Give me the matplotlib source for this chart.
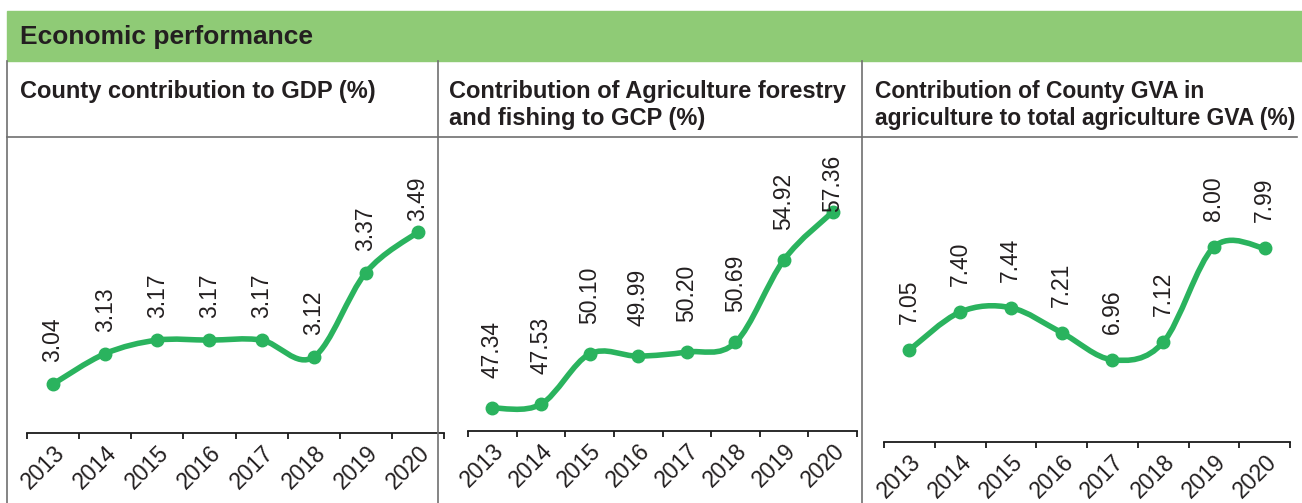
import matplotlib
matplotlib.use('Agg')
import matplotlib.pyplot as plt
from matplotlib.path import Path
from matplotlib.patches import PathPatch, Rectangle
from matplotlib.lines import Line2D

plt.rcParams['font.family'] = ['Liberation Sans', 'DejaVu Sans']

#
# Data
#
years = ['2013', '2014', '2015', '2016', '2017', '2018', '2019', '2020']
gdp_share = [3.04, 3.13, 3.17, 3.17, 3.17, 3.12, 3.37, 3.49]
agri_gcp_share = [47.34, 47.53, 50.10, 49.99, 50.20, 50.69, 54.92, 57.36]
agri_gva_share = [7.05, 7.40, 7.44, 7.21, 6.96, 7.12, 8.00, 7.99]

header = 'Economic performance'
titles = ['County contribution to GDP (%)',
          'Contribution of Agriculture forestry\nand fishing to GCP (%)',
          'Contribution of County GVA in\nagriculture to total agriculture GVA (%)']

W, H = 1302, 503
GREEN_BAR = '#8fcb76'
GREEN_LINE = '#2ab35e'
GRID = '#707070'
TEXT = '#231f20'

fig = plt.figure(figsize=(W / 100, H / 100), dpi=100)


def fx(px):
    return px / W


def fy(py):
    return 1 - py / H


#
# Table frame: green header, title row, panel dividers
#
fig.patches.append(Rectangle((fx(7), fy(61)), fx(1302 - 7), fy(11) - fy(61),
                             transform=fig.transFigure, color=GREEN_BAR, zorder=0))
fig.text(fx(20), fy(44), header, fontsize=19, fontweight='bold', color=TEXT,
         va='baseline', ha='left')
for x0 in [7, 438, 862]:
    fig.add_artist(Line2D([fx(x0), fx(x0)], [fy(61), fy(503)], color=GRID, lw=1.2))
fig.add_artist(Line2D([fx(7), fx(1297)], [fy(137), fy(137)], color=GRID, lw=1.2))

title_x = [20, 449, 875]
title_sizes = [17, 17, 16.5]
for tx, fs, t in zip(title_x, title_sizes, titles):
    fig.text(fx(tx), fy(80), t, fontsize=fs, fontweight='bold', color=TEXT,
             va='top', ha='left', linespacing=1.22)


def smooth_path(xs, ys):
    # smoothed line through the points (cubic bezier, like a spreadsheet "smoothed line")
    pts = list(zip(xs, ys))
    n = len(pts)
    verts = [pts[0]]
    codes = [Path.MOVETO]
    for i in range(n - 1):
        p0 = pts[max(i - 1, 0)]
        p1 = pts[i]
        p2 = pts[i + 1]
        p3 = pts[min(i + 2, n - 1)]
        c1 = (p1[0] + (p2[0] - p0[0]) / 6, p1[1] + (p2[1] - p0[1]) / 6)
        c2 = (p2[0] - (p3[0] - p1[0]) / 6, p2[1] - (p3[1] - p1[1]) / 6)
        verts += [c1, c2, p2]
        codes += [Path.CURVE4] * 3
    return Path(verts, codes)


# axes boxes in pixels: left, right, axis line y, top
boxes = [(27, 444, 433, 177), (468, 857, 431, 155), (884, 1290, 442, 170)]
ylims = [(2.895, 3.653), (46.164, 60.27), (6.201, 8.711)]
label_offsets = [22, 30, 26]
series = [gdp_share, agri_gcp_share, agri_gva_share]

axes = []
for (l, r, b, t), yl, off, vals in zip(boxes, ylims, label_offsets, series):
    ax = fig.add_axes([fx(l), fy(b), fx(r - l), fy(t) - fy(b)])
    ax.patch.set_alpha(0)
    xs = list(range(len(years)))
    ax.add_patch(PathPatch(smooth_path(xs, vals), fill=False, edgecolor=GREEN_LINE,
                           lw=4, capstyle='round', joinstyle='round', zorder=2))
    ax.plot(xs, vals, 'o', color=GREEN_LINE, ms=9, zorder=3)
    ax.set_xlim(-0.5, len(years) - 0.5)
    ax.set_ylim(*yl)
    for side in ['left', 'right', 'top']:
        ax.spines[side].set_visible(False)
    ax.spines['bottom'].set_linewidth(1.3)
    ax.spines['bottom'].set_color('#1a1a1a')
    ax.set_yticks([])
    ax.set_xticks(xs)
    ax.set_xticklabels(years, fontsize=16.5, color=TEXT, rotation=45,
                       ha='right', va='top', rotation_mode='anchor')
    ax.tick_params(axis='x', which='major', length=0, pad=6)
    ax.set_xticks([x - 0.5 for x in range(len(years) + 1)], minor=True)
    ax.tick_params(axis='x', which='minor', length=4, width=1.3, color='#1a1a1a')
    for x, v in zip(xs, vals):
        ax.annotate(f'{v:.2f}', (x, v), xytext=(0, off), textcoords='offset pixels',
                    rotation=90, ha='center', va='bottom', fontsize=16.5, color=TEXT,
                    annotation_clip=False)
    axes.append(ax)

#
# keep the value labels inside each plot box
#
fig.canvas.draw()
renderer = fig.canvas.get_renderer()
for ax in axes:
    top = ax.get_window_extent().y1
    for txt in ax.texts:
        bb = txt.get_window_extent(renderer)
        if bb.y1 > top:
            dx, dy = txt.xyann
            txt.xyann = (dx, dy - (bb.y1 - top))

fig.savefig('out.png', dpi=100)
